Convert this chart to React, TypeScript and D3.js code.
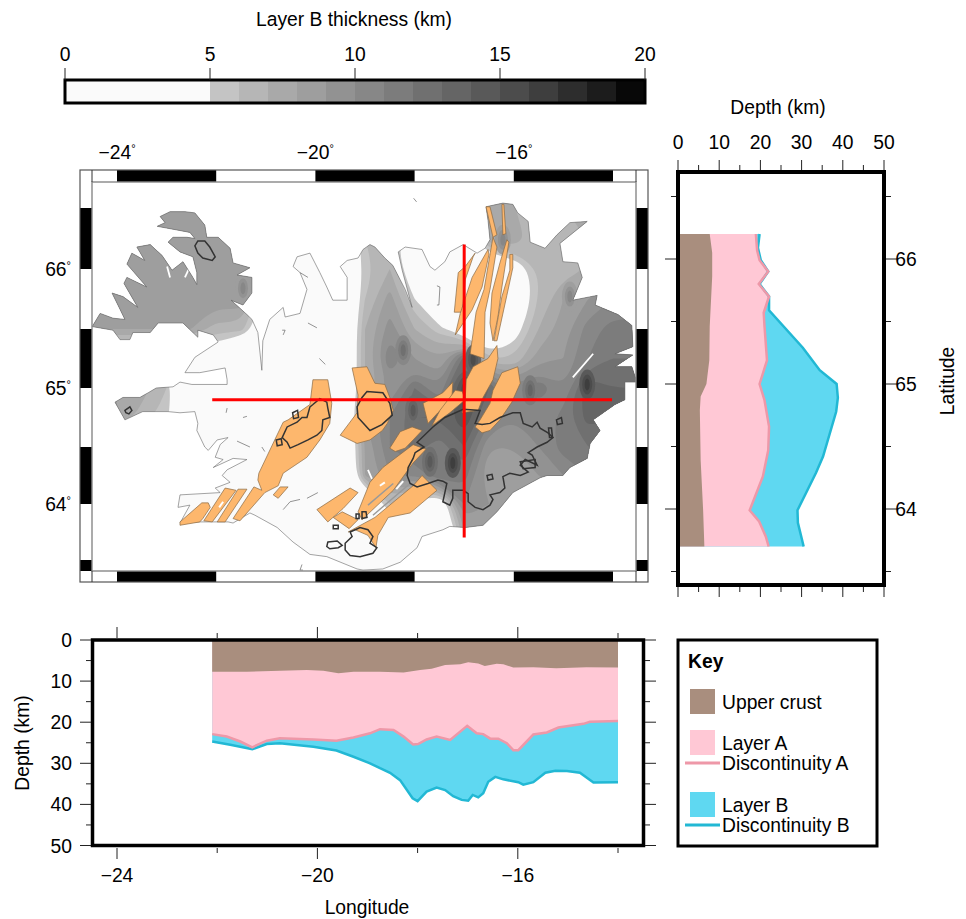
import React from "react";
import * as d3 from "d3";

type P = [number, number];

// ---- colour bar
const barTicks = [0, 5, 10, 15, 20];
const barLevels = [5, 6, 7, 8, 9, 10, 11, 12, 13, 14, 15, 16, 17, 18, 19];
const barGreys = ["#c4c4c4", "#b6b6b6", "#a9a9a9", "#9e9e9e", "#929292", "#878787", "#7c7c7c", "#707070", "#656565", "#595959", "#4c4c4c", "#3e3e3e", "#2d2d2d", "#1c1c1c", "#080808"];

// ---- map grid of layer B thickness (km), rows north to south, columns west to east
const gridLons = d3.range(23).map((i) => -24.5 + i * 0.5);
const gridLats = d3.range(15).map((i) => 66.75 - i * 0.25);
const thickness = [
  [8, 8, 8, 8, 8, 8, 8, 8, 3, 3, 3, 3, 6, 6, 7, 8, 7, 7, 6, 7, 8, 9, 10],
  [8, 8, 8, 8, 8, 8, 8, 8, 3, 3, 3, 3, 6, 6, 7, 8, 7, 7, 6, 7, 8, 9, 10],
  [8, 8, 8, 8, 8, 8, 8, 8, 2, 2, 2, 6, 6, 3, 3, 3, 8, 8, 6, 6.5, 7, 8, 8],
  [8, 8, 8, 8, 8.5, 8, 8.5, 8.5, 2, 1, 1, 5.5, 7, 3, 1, 0, 2, 3.5, 6, 6.5, 7, 8, 8],
  [8, 8, 8.5, 8.5, 8.5, 8.5, 9, 4, 0, 0, 1, 6, 8.5, 5, 1, 0, 0, 2.5, 6, 8, 9, 10, 10],
  [8, 8, 8, 8, 8, 6.5, 6.5, 3, 0, 0, 1, 7, 9.5, 7, 5.5, 3, 1, 4, 7, 8.5, 10.5, 11.5, 11.5],
  [3, 3, 3, 3, 3, 3, 0, 0, 0, 0, 1, 7, 11, 9, 8, 12.5, 6, 6, 8.5, 9, 11, 12, 12],
  [8, 8, 7.5, 6, 0, 0, 0, 0, 0, 0, 1, 7, 9, 12, 10, 16, 13, 10, 12, 10, 14, 13, 13],
  [8, 8, 6.5, 5.5, 0, 0, 0, 0, 0, 0, 0.5, 9, 11, 13, 13, 15, 11.5, 10, 10, 11.5, 13.5, 13, 13],
  [0, 0, 0, 0, 0, 0, 0, 0, 0, 0, 0, 8, 11, 12.5, 11.5, 13, 9, 9, 10, 11.5, 12, 12, 12],
  [0, 0, 0, 0, 0, 0, 0, 0, 0, 0, 0, 8, 10, 10, 12, 11.5, 8, 8.5, 9, 10, 11, 11, 11],
  [0, 0, 0, 0, 0, 0, 0, 0, 0, 0, 0, 1, 6, 4, 2.5, 10, 9, 8, 8, 8, 8, 8, 8],
  [0, 0, 0, 0, 0, 0, 0, 0, 0, 0, 0, 0, 3.5, 2, 1, 8, 8, 8, 8, 8, 8, 8, 8],
  [0, 0, 0, 0, 0, 0, 0, 0, 0, 0, 0, 0, 0, 0, 0, 4, 6, 6, 6, 6, 6, 6, 6],
  [0, 0, 0, 0, 0, 0, 0, 0, 0, 0, 0, 0, 0, 0, 0, 4, 6, 6, 6, 6, 6, 6, 6],
];
// local thickness highs: lon, lat, km
const thickSpots = [
  [-18.03, 64.81, 14], [-17.23, 64.36, 16], [-17.69, 64.37, 14], [-14.52, 65.03, 16], [-15.67, 64.98, 13],
  [-18.23, 65.32, 12], [-16.22, 66.24, 10], [-14.87, 65.77, 10], [-21.46, 65.84, 10], [-16.82, 65.24, 15],
];

// ---- coastline, [lon, lat]
const coast: P[] = [
  [-24.5, 65.52], [-24.34, 65.63], [-24.08, 65.59], [-23.84, 65.58], [-24.1, 65.8], [-23.88, 65.77], [-23.58, 65.68], [-23.86, 65.88], [-23.8, 65.93], [-23.4, 65.85], [-23.8, 66.04], [-23.7, 66.13], [-23.44, 66.07], [-23.6, 66.18], [-23.33, 66.2], [-23.09, 66.11], [-22.89, 65.99], [-22.67, 66.06], [-22.47, 65.93], [-22.39, 65.87], [-22.39, 65.97], [-22.47, 66.1], [-22.73, 66.14], [-22.97, 66.22], [-22.87, 66.26], [-22.59, 66.26], [-22.43, 66.25], [-22.53, 66.3], [-22.79, 66.32], [-23.19, 66.35], [-23.03, 66.38], [-23.13, 66.43], [-22.93, 66.47], [-22.63, 66.47], [-22.43, 66.46], [-22.23, 66.36], [-22.19, 66.26], [-21.96, 66.26], [-21.72, 66.17], [-21.66, 66.05], [-21.32, 66.01], [-21.58, 65.95], [-21.28, 65.93], [-21.28, 65.8], [-21.46, 65.7], [-21.7, 65.74], [-21.38, 65.62], [-21.28, 65.58],
  [-21.16, 65.47], [-21.08, 65.15], [-21.06, 65.4], [-20.92, 65.58], [-20.65, 65.68], [-20.61, 65.6], [-20.31, 65.63], [-20.17, 65.83], [-20.31, 65.97], [-20.45, 66.02], [-20.37, 66.1], [-20.11, 66.13], [-19.91, 65.97], [-19.77, 65.85], [-19.65, 65.74], [-19.36, 65.74], [-19.36, 65.93], [-19.5, 66.02], [-19.36, 66.07], [-19.14, 66.09], [-19.04, 66.16], [-18.9, 66.2], [-18.8, 66.18], [-18.6, 66.09], [-18.44, 66.03], [-18.19, 65.83], [-18.05, 65.68], [-18.25, 65.99], [-18.33, 66.14], [-18.19, 66.18], [-17.85, 66.16], [-17.69, 66.02], [-17.59, 65.99], [-17.39, 66.06], [-17.29, 66.14], [-17.02, 66.2], [-16.74, 66.13], [-16.58, 66.17], [-16.48, 66.24], [-16.52, 66.4], [-16.56, 66.51], [-16.22, 66.54], [-16.02, 66.53], [-15.92, 66.46], [-15.71, 66.39], [-15.67, 66.22], [-15.37, 66.17], [-15.13, 66.28], [-14.87, 66.38], [-14.52, 66.39], [-15.07, 66.21], [-15.01, 66.06], [-14.71, 66.05], [-14.62, 65.93], [-14.81, 65.74], [-14.32, 65.78], [-14.36, 65.7], [-13.9, 65.62], [-13.62, 65.53], [-13.6, 65.35], [-13.96, 65.29], [-13.6, 65.28], [-13.96, 65.18], [-13.62, 65.18], [-13.52, 65.05], [-13.76, 65.05], [-13.76, 64.9], [-13.96, 64.86], [-14.4, 64.73], [-14.26, 64.64], [-14.46, 64.53], [-14.52, 64.4], [-14.87, 64.32], [-15.01, 64.25], [-15.33, 64.25], [-15.47, 64.23], [-16.02, 64.1], [-16.34, 63.93], [-16.62, 63.81], [-16.98, 63.79], [-17.29, 63.8], [-17.43, 63.77], [-17.85, 63.71], [-17.95, 63.61], [-18.29, 63.48], [-18.64, 63.42], [-19.04, 63.41], [-19.16, 63.42], [-19.77, 63.53], [-20.11, 63.55], [-20.45, 63.66], [-20.77, 63.79], [-21.22, 63.9], [-21.32, 63.92], [-21.66, 63.83], [-21.76, 63.84], [-22.33, 63.84], [-22.73, 63.83], [-22.53, 63.99], [-22.77, 63.97], [-22.73, 64.08], [-21.92, 64.1], [-22.02, 64.14], [-21.72, 64.19], [-21.88, 64.25], [-21.78, 64.3], [-21.38, 64.39], [-21.66, 64.4], [-22.06, 64.32], [-21.86, 64.39], [-22.02, 64.41], [-21.92, 64.52], [-21.76, 64.58], [-21.98, 64.56], [-22.16, 64.47], [-22.23, 64.5], [-22.39, 64.64], [-22.37, 64.7], [-22.43, 64.8], [-22.73, 64.79], [-22.97, 64.8], [-23.48, 64.8], [-23.84, 64.73], [-24.04, 64.88], [-23.88, 64.92], [-23.54, 64.92], [-23.37, 64.96], [-23.21, 65.0], [-22.87, 65.01], [-22.73, 65.05], [-22.49, 65.03], [-21.78, 65.03], [-21.78, 65.07], [-21.82, 65.17], [-22.33, 65.13], [-22.63, 65.13], [-22.43, 65.26], [-21.96, 65.39], [-22.06, 65.45], [-22.37, 65.49], [-22.37, 65.43], [-22.67, 65.55], [-23.17, 65.55], [-23.33, 65.47], [-23.68, 65.47], [-23.74, 65.41], [-23.94, 65.41], [-24.08, 65.49],
];

// ---- rift zone polygons
const riftZones: P[][] = [
  [[-20.05, 65.07], [-19.75, 65.07], [-19.67, 64.87], [-19.71, 64.7], [-19.91, 64.56], [-20.17, 64.41], [-20.65, 64.27], [-20.75, 64.16], [-21.02, 64.1], [-21.52, 63.85], [-21.66, 63.87], [-21.24, 64.15], [-21.08, 64.12], [-21.16, 64.21], [-21.14, 64.27], [-20.65, 64.71], [-20.55, 64.73], [-20.11, 64.86]],
  [[-21.56, 64.13], [-21.38, 64.13], [-21.82, 63.84], [-21.98, 63.84]],
  [[-21.82, 64.14], [-21.6, 64.12], [-22.08, 63.84], [-22.25, 63.85]],
  [[-22.29, 64.01], [-22.16, 64.01], [-22.12, 63.97], [-22.27, 63.87], [-22.33, 63.84], [-22.73, 63.81], [-22.73, 63.84]],
  [[-20.71, 64.15], [-20.55, 64.15], [-20.75, 64.05], [-20.85, 64.08]],
  [[-19.26, 65.17], [-18.96, 65.18], [-18.8, 65.04], [-18.6, 65.03], [-18.5, 64.92], [-18.43, 64.81], [-18.55, 64.7], [-18.65, 64.64], [-18.9, 64.56], [-19.16, 64.53], [-19.5, 64.6], [-19.16, 64.79], [-19.14, 64.94]],
  [[-18.5, 64.49], [-18.29, 64.63], [-18.05, 64.67], [-17.85, 64.64], [-18.03, 64.56], [-18.19, 64.49], [-18.39, 64.46]],
  [[-19.97, 63.95], [-19.3, 64.14], [-19.14, 64.1], [-19.44, 63.96], [-19.75, 63.84]],
  [[-19.46, 63.93], [-19.14, 63.86], [-19.32, 63.78], [-19.64, 63.88]],
  [[-19.14, 63.93], [-18.9, 64.19], [-18.64, 64.32], [-18.03, 64.52], [-17.77, 64.48], [-18.03, 64.36], [-18.43, 64.12], [-19.06, 63.86]],
  [[-19.34, 63.75], [-18.8, 63.88], [-18.03, 64.16], [-17.85, 64.25], [-17.55, 64.12], [-18.09, 63.92], [-18.53, 63.88], [-18.74, 63.72], [-18.78, 63.61], [-18.94, 63.72], [-19.2, 63.77]],
  [[-16.78, 66.13], [-16.82, 66.1], [-16.98, 65.91], [-17.04, 65.64], [-17.2, 65.64], [-17.12, 65.97], [-16.98, 66.02]],
  [[-16.52, 66.16], [-16.5, 66.12], [-16.64, 65.85], [-16.84, 65.66], [-17.18, 65.45], [-17.08, 65.63], [-16.84, 65.93]],
  [[-16.42, 66.26], [-16.34, 66.18], [-16.48, 65.83], [-16.58, 65.64], [-16.6, 65.25], [-16.88, 65.29], [-16.76, 65.64], [-16.6, 65.83]],
  [[-16.14, 66.24], [-16.1, 66.22], [-16.24, 65.85], [-16.32, 65.6], [-16.42, 65.4], [-16.48, 65.55], [-16.44, 65.8], [-16.28, 66.05]],
  [[-16.08, 66.12], [-16.02, 66.12], [-16.02, 66.01], [-16.14, 65.78], [-16.34, 65.4], [-16.4, 65.4], [-16.24, 65.77], [-16.08, 65.99]],
  [[-16.56, 66.51], [-16.48, 66.51], [-16.34, 66.28], [-16.42, 66.26]],
  [[-16.24, 66.53], [-16.2, 66.53], [-16.16, 66.29], [-16.22, 66.28]],
  [[-16.34, 65.36], [-16.52, 65.25], [-16.82, 65.18], [-16.96, 65.07], [-16.98, 64.9], [-17.04, 64.79], [-16.72, 64.81], [-16.62, 64.92], [-16.42, 65.07], [-16.32, 65.25]],
  [[-15.92, 65.18], [-16.24, 65.13], [-16.42, 64.98], [-16.48, 64.87], [-16.68, 64.73], [-16.78, 64.67], [-16.64, 64.62], [-16.48, 64.64], [-16.28, 64.73], [-16.04, 64.88], [-15.87, 65.04]],
  [[-17.23, 65.05], [-17.43, 64.96], [-17.83, 64.87], [-17.73, 64.7], [-17.53, 64.79], [-17.25, 64.9]],
  [[-17.04, 64.97], [-17.18, 64.98], [-17.49, 64.81], [-17.65, 64.68], [-17.29, 64.79], [-16.98, 64.9]],
];
// grey slits and white gaps in the rift zones
const riftSlits: P[][] = [
  [[-18.94, 63.99], [-18.43, 64.18]],
  [[-18.84, 63.9], [-18.09, 64.18]],
];
const riftGaps: P[][] = [
  [[-18.7, 64.16], [-18.6, 64.19]],
  [[-18.37, 64.13], [-18.23, 64.2]],
  [[-21.94, 63.97], [-21.86, 64.02]],
];

// ---- glacier outlines
const glaciers: P[][] = [
  [[-22.43, 66.19], [-22.37, 66.23], [-22.23, 66.23], [-22.13, 66.18], [-22.02, 66.1], [-22.08, 66.07], [-22.27, 66.09], [-22.37, 66.13]],
  [[-23.84, 64.81], [-23.74, 64.84], [-23.7, 64.81], [-23.76, 64.78], [-23.82, 64.79]],
  [[-20.05, 64.86], [-19.91, 64.91], [-19.77, 64.88], [-19.75, 64.83], [-19.71, 64.75], [-19.85, 64.73], [-19.87, 64.64], [-19.97, 64.6], [-20.15, 64.56], [-20.35, 64.52], [-20.51, 64.49], [-20.57, 64.54], [-20.67, 64.58], [-20.57, 64.67], [-20.37, 64.71], [-20.27, 64.75], [-20.17, 64.75], [-20.11, 64.84]],
  [[-19.16, 64.84], [-19.06, 64.92], [-18.96, 64.97], [-18.64, 64.96], [-18.5, 64.87], [-18.45, 64.77], [-18.66, 64.69], [-18.9, 64.64], [-19.14, 64.75]],
  [[-17.81, 64.5], [-17.99, 64.45], [-18.03, 64.4], [-18.13, 64.32], [-18.15, 64.25], [-18.09, 64.18], [-17.95, 64.15], [-17.73, 64.18], [-17.53, 64.21], [-17.43, 64.2], [-17.35, 64.18], [-17.43, 64.02], [-17.29, 63.99], [-17.23, 64.05], [-17.23, 64.12], [-17.02, 64.12], [-16.92, 64.09], [-16.92, 64.02], [-16.78, 63.97], [-16.62, 63.95], [-16.48, 63.99], [-16.42, 64.04], [-16.48, 64.08], [-16.28, 64.1], [-16.18, 64.14], [-16.22, 64.24], [-16.08, 64.27], [-15.87, 64.25], [-15.71, 64.28], [-15.87, 64.34], [-15.77, 64.39], [-15.53, 64.34], [-15.63, 64.43], [-15.71, 64.45], [-15.53, 64.5], [-15.33, 64.54], [-15.21, 64.58], [-15.31, 64.62], [-15.47, 64.66], [-15.53, 64.71], [-15.63, 64.67], [-15.81, 64.7], [-15.87, 64.79], [-16.02, 64.79], [-16.28, 64.75], [-16.48, 64.7], [-16.64, 64.69], [-16.78, 64.7], [-16.68, 64.81], [-17.02, 64.82], [-17.39, 64.75], [-17.63, 64.67], [-17.95, 64.54]],
  [[-15.87, 64.37], [-15.57, 64.39], [-15.57, 64.32], [-15.81, 64.31]],
  [[-16.54, 64.25], [-16.44, 64.26], [-16.42, 64.22], [-16.52, 64.21]],
  [[-19.3, 63.75], [-19.1, 63.79], [-18.94, 63.77], [-18.84, 63.71], [-18.9, 63.65], [-18.76, 63.61], [-18.84, 63.56], [-19.1, 63.53], [-19.3, 63.54], [-19.4, 63.59], [-19.4, 63.65], [-19.26, 63.71]],
  [[-19.75, 63.66], [-19.56, 63.67], [-19.46, 63.63], [-19.54, 63.61], [-19.71, 63.6], [-19.77, 63.62]],
  [[-19.64, 63.81], [-19.54, 63.81], [-19.54, 63.78], [-19.64, 63.78]],
  [[-19.06, 63.93], [-18.98, 63.93], [-18.96, 63.88], [-19.06, 63.87]],
  [[-19.18, 63.91], [-19.12, 63.91], [-19.12, 63.87], [-19.18, 63.87]],
  [[-20.46, 64.79], [-20.36, 64.81], [-20.34, 64.75], [-20.44, 64.74]],
  [[-20.79, 64.56], [-20.69, 64.57], [-20.67, 64.52], [-20.77, 64.51]],
  [[-15.14, 64.73], [-15.04, 64.75], [-15.02, 64.7], [-15.12, 64.69]],
  [[-15.3, 64.66], [-15.24, 64.66], [-15.22, 64.58], [-15.28, 64.58]],
];

// ---- small lakes and skerries
const coastBits: P[][] = [
  [[-18.02, 66.58], [-17.96, 66.55]],
  [[-17.55, 65.86], [-17.49, 65.85], [-17.51, 65.7], [-17.55, 65.7]],
  [[-21.58, 64.55], [-21.32, 64.5]],
  [[-21.08, 64.5], [-21.02, 64.46]],
  [[-20.17, 64.05], [-19.95, 64.1]],
  [[-20.65, 63.95], [-20.51, 64.02], [-20.31, 64.04]],
  [[-21.8, 64.79], [-21.78, 64.83]],
  [[-21.46, 64.75], [-21.38, 64.76]],
  [[-20.31, 65.97], [-20.15, 65.93]],
  [[-20.15, 65.55], [-19.97, 65.51]],
  [[-20.67, 65.49], [-20.61, 65.49], [-20.65, 65.45]],
  [[-20.27, 63.46], [-20.31, 63.41], [-20.25, 63.41]],
  [[-19.92, 65.25], [-19.8, 65.2]],
];
const whiteStreaks: P[][] = [
  [[-14.4, 65.29], [-14.81, 65.09]],
  [[-18.94, 64.3], [-18.86, 64.22]],
  [[-22.63, 65.93], [-22.53, 66.02]],
  [[-22.93, 65.93], [-22.99, 66.02]],
];

// ---- red profile lines
const profileLat = 64.9;
const profileLon = -17;
const profileLonRange = [-22.08, -14.02];
const profileLatRange = [66.2, 63.7];

// ---- east profile (along longitude -17)
const eastCrustLat = [66.2, 66.05, 65.86, 65.46, 65.19, 65.0, 64.9, 64.79, 64.39, 63.99, 63.7];
const eastCrust = [7.7, 8.3, 8.3, 7.7, 7.6, 6.9, 5.5, 5.3, 5.5, 6.1, 6.4];
const eastALat = [66.2, 66.07, 65.99, 65.9, 65.8, 65.7, 65.57, 65.46, 65.19, 65.0, 64.87, 64.66, 64.47, 64.26, 63.99, 63.9, 63.78, 63.7];
const eastA = [18.9, 19.2, 19.8, 21.9, 19.6, 22.1, 20.8, 21.0, 21.6, 19.8, 21.0, 22.1, 21.9, 20.6, 17.4, 19.7, 21.3, 22.0];
const eastBLat = [66.2, 66.09, 65.99, 65.9, 65.8, 65.7, 65.59, 65.29, 65.11, 65, 64.89, 64.78, 64.42, 64.29, 63.99, 63.89, 63.7];
const eastB = [19.8, 19.4, 20.1, 21.9, 19.8, 22.1, 22.1, 30.3, 34.4, 38.5, 38.8, 38.4, 35.2, 33.5, 29, 29.1, 30.5];

// ---- south profile (along latitude 64.9)
const southCrustLon = [-22.1, -21.41, -20.75, -20.21, -19.88, -19.58, -19.28, -18.75, -18.28, -17.95, -17.72, -17.45, -17.15, -16.99, -16.79, -16.66, -16.42, -16.29, -16.09, -15.69, -15.23, -14.63, -14.0];
const southCrust = [7.7, 7.7, 7.5, 7.3, 7.5, 8.1, 7.7, 7.7, 7.9, 7.3, 7.0, 6.1, 5.9, 5.4, 5.7, 6.3, 5.8, 5.9, 6.7, 6.6, 6.9, 6.6, 6.7];
const southALon = [-22.1, -21.81, -21.54, -21.3, -21.01, -20.75, -20.08, -19.62, -19.28, -18.95, -18.75, -18.48, -18.28, -18.09, -17.99, -17.82, -17.62, -17.35, -17.01, -16.82, -16.69, -16.55, -16.39, -16.22, -16.09, -15.99, -15.69, -15.42, -15.19, -14.69, -14.56, -14.0];
const southA = [22.9, 23.5, 24.7, 26.1, 24.5, 23.9, 24.2, 24.5, 23.7, 22.7, 21.7, 21.9, 23.5, 25.4, 25.3, 24.2, 23.5, 24.3, 20.9, 22.7, 22.9, 24, 24, 25.1, 26.8, 26.8, 23, 22.5, 21.3, 20.4, 19.9, 19.7];
const southBLon = [-22.1, -21.74, -21.3, -21.01, -20.75, -20.08, -19.62, -19.28, -18.95, -18.75, -18.55, -18.35, -18.1, -18.0, -17.82, -17.62, -17.45, -17.29, -17.12, -16.99, -16.9, -16.79, -16.69, -16.59, -16.45, -16.29, -15.99, -15.89, -15.69, -15.45, -15.25, -15.02, -14.76, -14.49, -14.0];
const southB = [24.7, 25.5, 26.6, 25.3, 25.1, 26, 26.9, 28.4, 30, 31.2, 32.3, 34.1, 38.5, 39.2, 36.9, 35.9, 36.5, 38, 38.9, 39.1, 37.7, 38.3, 37.3, 34.5, 33.3, 33.9, 34.6, 35.2, 34.6, 32.3, 31.8, 31.9, 32.3, 34.7, 34.6];

const depthTicks = [0, 10, 20, 30, 40, 50];
const depthMinor = [5, 15, 25, 35, 45];
const latTicks = [66, 65, 64];
const latMinor = [66.5, 65.5, 64.5, 63.5];
const lonTicks = [-24, -20, -16];
const lonMinor = [-22, -18, -14];
const lonBandsBlack = [[-24, -22], [-20, -18], [-16, -14]];
const latBandsBlack = [[66.5, 66], [65.5, 65], [64.5, 64], [63.5, 63.4]];

const BROWN = "#a98e7e";
const PINK = "#ffc8d5";
const BLUE = "#5fd8f1";
const LINE_A = "#ee98a8";
const LINE_B = "#22b8d4";
const ORANGE = "#fdb76d";
const FONT = "'Liberation Sans', Arial, sans-serif";
const minus = (v: number) => String(v).replace("-", "\u2212");

// map scales
const mapX = d3.scaleLinear().domain([-24, -14]).range([117, 613]);
const mapY = d3.scaleLinear().domain([66.5, 66, 65.5, 65, 64.5, 64, 63.5]).range([208, 269, 329, 388, 447, 504, 560]);
const ptPath = (pts: P[], closed = true) => (d3.line<P>().x((d) => mapX(d[0])).y((d) => mapY(d[1]))(pts) || "") + (closed ? "Z" : "");
const greyOf = d3.scaleThreshold<number, string>().domain(barLevels.slice(1)).range(barGreys);

// east panel scales
const eX = d3.scaleLinear().domain([0, 50]).range([678, 884]);
const eY = d3.scaleLinear().domain([66, 64]).range([259, 509]);
// south panel scales
const sX = d3.scaleLinear().domain([-24, -14]).range([117, 618]);
const sY = d3.scaleLinear().domain([0, 50]).range([640, 845.5]);
// colour bar
const cX = d3.scaleLinear().domain([0, 20]).range([65, 645]);

function eastArea(lat: number[], v: number[]) {
  return d3.area<number>().y((d) => eY(lat[d])).x0(eX(0)).x1((d) => eX(v[d]))(d3.range(lat.length)) || "";
}
function eastLine(lat: number[], v: number[]) {
  return d3.line<number>().y((d) => eY(lat[d])).x((d) => eX(v[d]))(d3.range(lat.length)) || "";
}
function southArea(lon: number[], v: number[]) {
  return d3.area<number>().x((d) => sX(lon[d])).y0(sY(0)).y1((d) => sY(v[d]))(d3.range(lon.length)) || "";
}
function southLine(lon: number[], v: number[]) {
  return d3.line<number>().x((d) => sX(lon[d])).y((d) => sY(v[d]))(d3.range(lon.length)) || "";
}

function ContourLayer() {
  const nx = gridLons.length;
  const ny = gridLats.length;
  const contours = d3.contours().size([nx, ny]).thresholds(barLevels)(thickness.flat());
  const toPx = (c: number[]): [number, number] => [
    mapX(gridLons[0] + (c[0] - 0.5) * 0.5),
    mapY(gridLats[0] - (c[1] - 0.5) * 0.25),
  ];
  // rounded rings instead of the straight grid cell cuts
  const ringLine = d3.line().curve(d3.curveBasisClosed);
  return (
    <g clipPath="url(#coast-clip)">
      {contours.map((c, i) => {
        const d = c.coordinates
          .flat()
          .map((ring) => ringLine(ring.slice(0, -1).map(toPx)))
          .join(" ");
        return <path key={i} d={d} fill={barGreys[i]} stroke="none" />;
      })}
      {thickSpots.map((s, i) => (
        <g key={i}>
          <ellipse cx={mapX(s[0])} cy={mapY(s[1])} rx={8} ry={15} fill={greyOf(s[2] - 2)} />
          <ellipse cx={mapX(s[0])} cy={mapY(s[1])} rx={5} ry={10} fill={greyOf(s[2] - 1)} />
          <ellipse cx={mapX(s[0])} cy={mapY(s[1])} rx={2.5} ry={6} fill={greyOf(s[2])} />
        </g>
      ))}
    </g>
  );
}

function MapFrame() {
  const x0 = 80, x1 = 648, y0 = 170, y1 = 582, ix0 = 92, ix1 = 636, iy0 = 182, iy1 = 571;
  return (
    <g>
      <rect x={x0} y={y0} width={x1 - x0} height={iy0 - y0} fill="#fff" />
      <rect x={x0} y={iy1} width={x1 - x0} height={y1 - iy1} fill="#fff" />
      <rect x={x0} y={y0} width={ix0 - x0} height={y1 - y0} fill="#fff" />
      <rect x={ix1} y={y0} width={x1 - ix1} height={y1 - y0} fill="#fff" />
      {lonBandsBlack.map((b, i) => (
        <g key={i}>
          <rect x={mapX(b[0])} y={y0} width={mapX(b[1]) - mapX(b[0])} height={iy0 - y0} fill="#000" />
          <rect x={mapX(b[0])} y={iy1} width={mapX(b[1]) - mapX(b[0])} height={y1 - iy1} fill="#000" />
        </g>
      ))}
      {latBandsBlack.map((b, i) => {
        const top = mapY(b[0]);
        const bot = Math.min(mapY(b[1]), iy1);
        return (
          <g key={i}>
            <rect x={x0} y={top} width={ix0 - x0} height={bot - top} fill="#000" />
            <rect x={ix1} y={top} width={x1 - ix1} height={bot - top} fill="#000" />
          </g>
        );
      })}
      <rect x={x0} y={y0} width={x1 - x0} height={y1 - y0} fill="none" stroke="#555" strokeWidth={1.2} />
      <rect x={ix0} y={iy0} width={ix1 - ix0} height={iy1 - iy0} fill="none" stroke="#888" strokeWidth={1.4} />
      <line x1={ix0} x2={ix0} y1={y0} y2={iy0} stroke="#333" />
      <line x1={ix1} x2={ix1} y1={y0} y2={iy0} stroke="#333" />
      <line x1={ix0} x2={ix0} y1={iy1} y2={y1} stroke="#333" />
      <line x1={ix1} x2={ix1} y1={iy1} y2={y1} stroke="#333" />
    </g>
  );
}

export default function App() {
  const txt = { fontFamily: FONT, fontSize: 19.3, fill: "#000" } as const;
  return (
    <svg width={966} height={919} style={{ position: "absolute", left: 0, top: 0, background: "#fff" }}>
      <defs>
        <clipPath id="coast-clip"><path d={ptPath(coast)} /></clipPath>
      </defs>

      {/* colour bar */}
      <text {...txt} x={354} y={26} textAnchor="middle">Layer B thickness (km)</text>
      <rect x={cX(0)} y={80} width={cX(5) - cX(0)} height={23} fill="#fafafa" />
      {barLevels.map((l, i) => (
        <rect key={l} x={cX(l)} y={80} width={cX(l + 1) - cX(l) + 0.5} height={23} fill={barGreys[i]} />
      ))}
      <rect x={cX(0)} y={80} width={cX(20) - cX(0)} height={23} fill="none" stroke="#000" strokeWidth={3} />
      {barTicks.map((t) => (
        <g key={t}>
          <line x1={cX(t)} x2={cX(t)} y1={68} y2={80} stroke="#222" />
          <text {...txt} x={cX(t)} y={61} textAnchor="middle">{t}</text>
        </g>
      ))}

      {/* map */}
      <path d={ptPath(coast)} fill="#fafafa" />
      <ContourLayer />
      {whiteStreaks.map((s, i) => (
        <path key={i} d={ptPath(s, false)} fill="none" stroke="#fff" strokeWidth={1.8} />
      ))}
      <path d={ptPath(coast)} fill="none" stroke="#666" strokeWidth={0.6} />
      {coastBits.map((s, i) => (
        <path key={i} d={ptPath(s, false)} fill="none" stroke="#666" strokeWidth={0.7} />
      ))}
      {riftZones.map((s, i) => (
        <path key={i} d={ptPath(s)} fill={ORANGE} stroke="#8a6a45" strokeWidth={0.7} />
      ))}
      {riftSlits.map((s, i) => (
        <path key={i} d={ptPath(s, false)} fill="none" stroke="#999" strokeWidth={1.4} />
      ))}
      {riftGaps.map((s, i) => (
        <path key={i} d={ptPath(s, false)} fill="none" stroke="#fff" strokeWidth={2} />
      ))}
      {glaciers.map((s, i) => (
        <path key={i} d={ptPath(s)} fill="none" stroke="#333" strokeWidth={1.5} />
      ))}
      <line x1={mapX(profileLonRange[0])} x2={mapX(profileLonRange[1])} y1={mapY(profileLat)} y2={mapY(profileLat)} stroke="#f00" strokeWidth={3} />
      <line x1={mapX(profileLon)} x2={mapX(profileLon)} y1={mapY(profileLatRange[0])} y2={mapY(profileLatRange[1])} stroke="#f00" strokeWidth={3} />
      <MapFrame />
      {lonTicks.map((t) => (
        <text key={t} {...txt} x={mapX(t)} y={159} textAnchor="middle">
          {minus(t)}<tspan fontSize={11} dy={-7}>°</tspan>
        </text>
      ))}
      {latTicks.map((t) => (
        <text key={t} {...txt} x={71} y={mapY(t) + 7} textAnchor="end">
          {t}<tspan fontSize={11} dy={-7}>°</tspan>
        </text>
      ))}

      {/* east profile */}
      <path d={eastArea(eastBLat, eastB)} fill={BLUE} />
      <path d={eastArea(eastALat, eastA)} fill={PINK} />
      <path d={eastArea(eastCrustLat, eastCrust)} fill={BROWN} />
      <path d={eastLine(eastBLat, eastB)} fill="none" stroke={LINE_B} strokeWidth={2.5} />
      <path d={eastLine(eastALat, eastA)} fill="none" stroke={LINE_A} strokeWidth={2.5} />
      <rect x={eX(0)} y={172} width={eX(50) - eX(0)} height={413} fill="none" stroke="#000" strokeWidth={4} />
      {depthTicks.map((t) => (
        <g key={t}>
          <line x1={eX(t)} x2={eX(t)} y1={160} y2={170} stroke="#222" />
          <line x1={eX(t)} x2={eX(t)} y1={587} y2={597} stroke="#222" />
          <text {...txt} x={eX(t)} y={149} textAnchor="middle">{t}</text>
        </g>
      ))}
      {depthMinor.map((t) => (
        <g key={t}>
          <line x1={eX(t)} x2={eX(t)} y1={165} y2={170} stroke="#222" />
          <line x1={eX(t)} x2={eX(t)} y1={587} y2={592} stroke="#222" />
        </g>
      ))}
      {latTicks.map((t) => (
        <g key={t}>
          <line x1={665} x2={676} y1={eY(t)} y2={eY(t)} stroke="#222" />
          <line x1={886} x2={897} y1={eY(t)} y2={eY(t)} stroke="#222" />
          <text {...txt} x={906} y={eY(t) + 7} textAnchor="middle">{t}</text>
        </g>
      ))}
      {latMinor.map((t) => (
        <g key={t}>
          <line x1={671} x2={676} y1={eY(t)} y2={eY(t)} stroke="#222" />
          <line x1={886} x2={891} y1={eY(t)} y2={eY(t)} stroke="#222" />
        </g>
      ))}
      <text {...txt} x={778} y={114} textAnchor="middle">Depth (km)</text>
      <text {...txt} x={954} y={381} textAnchor="middle" transform="rotate(-90 954 381)">Latitude</text>

      {/* south profile */}
      <path d={southArea(southBLon, southB)} fill={BLUE} />
      <path d={southArea(southALon, southA)} fill={PINK} />
      <path d={southArea(southCrustLon, southCrust)} fill={BROWN} />
      <path d={southLine(southBLon, southB)} fill="none" stroke={LINE_B} strokeWidth={2.5} />
      <path d={southLine(southALon, southA)} fill="none" stroke={LINE_A} strokeWidth={2.5} />
      <rect x={92.5} y={640} width={551} height={205.5} fill="none" stroke="#000" strokeWidth={3.5} />
      {lonTicks.map((t) => (
        <g key={t}>
          <line x1={sX(t)} x2={sX(t)} y1={627} y2={638} stroke="#222" />
          <line x1={sX(t)} x2={sX(t)} y1={848} y2={859} stroke="#222" />
          <text {...txt} x={sX(t)} y={882} textAnchor="middle">{minus(t)}</text>
        </g>
      ))}
      {lonMinor.map((t) => (
        <g key={t}>
          <line x1={sX(t)} x2={sX(t)} y1={633} y2={638} stroke="#222" />
          <line x1={sX(t)} x2={sX(t)} y1={848} y2={853} stroke="#222" />
        </g>
      ))}
      {depthTicks.map((t) => (
        <g key={t}>
          <line x1={80} x2={91} y1={sY(t)} y2={sY(t)} stroke="#222" />
          <line x1={645} x2={656} y1={sY(t)} y2={sY(t)} stroke="#222" />
          <text {...txt} x={72} y={sY(t) + 7} textAnchor="end">{t}</text>
        </g>
      ))}
      {depthMinor.map((t) => (
        <g key={t}>
          <line x1={86} x2={91} y1={sY(t)} y2={sY(t)} stroke="#222" />
          <line x1={645} x2={650} y1={sY(t)} y2={sY(t)} stroke="#222" />
        </g>
      ))}
      <text {...txt} x={29} y={743} textAnchor="middle" transform="rotate(-90 29 743)">Depth (km)</text>
      <text {...txt} x={367} y={914} textAnchor="middle">Longitude</text>

      {/* key */}
      <rect x={678} y={640} width={199} height={206} fill="#fff" stroke="#000" strokeWidth={3} />
      <text {...txt} x={688} y={668} fontWeight="bold">Key</text>
      <rect x={690} y={689} width={25} height={25} fill={BROWN} />
      <text {...txt} x={722} y={709}>Upper crust</text>
      <rect x={690} y={730} width={25} height={25} fill={PINK} />
      <text {...txt} x={722} y={750}>Layer A</text>
      <line x1={685} x2={720} y1={763} y2={763} stroke={LINE_A} strokeWidth={3} />
      <text {...txt} x={722} y={770}>Discontinuity A</text>
      <rect x={690} y={792} width={25} height={25} fill={BLUE} />
      <text {...txt} x={722} y={812}>Layer B</text>
      <line x1={685} x2={720} y1={825} y2={825} stroke={LINE_B} strokeWidth={3} />
      <text {...txt} x={722} y={832}>Discontinuity B</text>
    </svg>
  );
}
